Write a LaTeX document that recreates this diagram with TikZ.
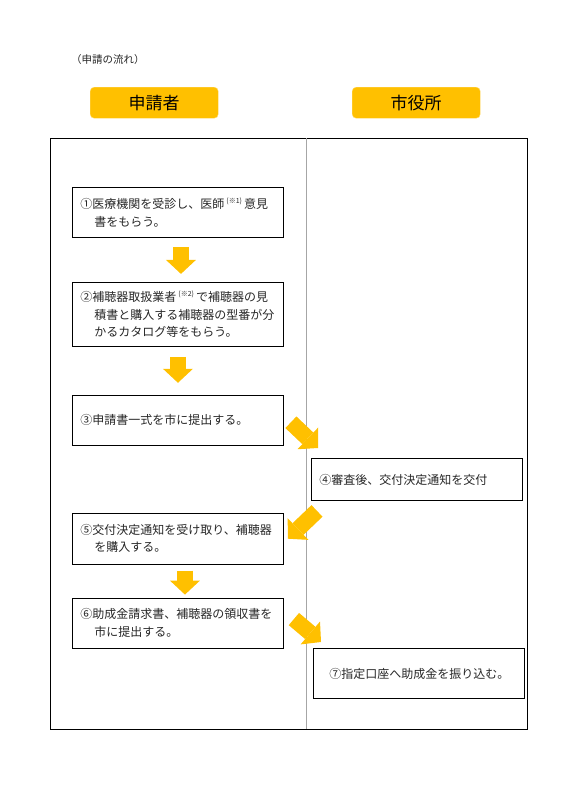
\documentclass[tikz,border=0pt]{standalone}
\usepackage{fontspec}
\setmainfont{Noto Sans CJK JP}
\usetikzlibrary{positioning,arrows.meta}
\begin{document}
\begin{tikzpicture}[x=1pt,y=-1pt]
  \definecolor{gold}{HTML}{FFC000}
  \definecolor{lightgold}{HTML}{FFD966}
  \definecolor{ink}{HTML}{262626}
  \definecolor{divider}{HTML}{A6A6A6}
  \newcommand{\hang}[0]{\hspace*{14pt}}
  \newcommand{\note}[1]{\,\raisebox{0.45em}{\fontsize{7}{7}\selectfont #1}\,}
  \tikzstyle{stepbox} = [rectangle, draw=black, line width=0.9pt, text=ink, font=\fontsize{12}{17.5}\selectfont, align=left, text width=195pt, inner xsep=8pt, anchor=north west]
  \tikzstyle{header}  = [rectangle, rounded corners=4pt, draw=lightgold, fill=gold, minimum width=128pt, minimum height=31pt, font=\fontsize{17}{17}\selectfont, anchor=north west]
  \tikzstyle{flow}    = [draw=gold, line width=16pt, -{Triangle[width=30pt, length=14pt, line width=0pt]}]
  \useasboundingbox (0,0) rectangle (579,808);
  \node [anchor=north west, inner sep=0pt, text=ink, font=\fontsize{10.5}{10.5}\selectfont] (title) at (71,54) {（申請の流れ）};
  \node [header] (applicant) at (90,87)  {申請者};
  \node [header] (cityhall)  at (352,87) {市役所};
  \draw [line width=0.9pt] (50,138) rectangle (527,729);
  \draw [divider, line width=0.9pt] (306,138) -- (306,729);
  \node [stepbox, minimum height=50pt]                   (step1) at (72,187) {①医療機関を受診し、医師\note{(※1)}意見\\\hang 書をもらう。};
  \node [stepbox, minimum height=64pt, below=44pt of step1] (step2)         {②補聴器取扱業者\note{(※2)}で補聴器の見\\\hang 積書と購入する補聴器の型番が分\\\hang かるカタログ等をもらう。};
  \node [stepbox, minimum height=50pt, below=48pt of step2] (step3)         {③申請書一式を市に提出する。};
  \node [stepbox, minimum height=42pt]                   (step4) at (311,458) {④審査後、交付決定通知を交付};
  \node [stepbox, minimum height=51pt, below=67pt of step3] (step5)         {⑤交付決定通知を受け取り、補聴器\\\hang を購入する。};
  \node [stepbox, minimum height=50pt, below=33pt of step5] (step6)         {⑥助成金請求書、補聴器の領収書を\\\hang 市に提出する。};
  \node [stepbox, minimum height=50pt, inner xsep=16pt, text width=179pt] (step7) at (313,648) {⑦指定口座へ助成金を振り込む。};
  \draw [flow, shorten <=9pt, shorten >=8pt]  ([xshift=3pt]step1.south) -- ([xshift=3pt]step2.north);
  \draw [flow, shorten <=10pt, shorten >=12pt] (step2.south) -- (step3.north);
  \draw [flow] ([shift={(7,2)}]step3.east) -- ([shift={(7,-10)}]step4.north west);
  \draw [flow] ([shift={(6,10)}]step4.south west) -- ([shift={(4,26)}]step5.north east);
  \draw [flow, shorten <=6pt, shorten >=3pt]  ([xshift=7pt]step5.south) -- ([xshift=7pt]step6.north);
  \draw [flow] ([shift={(10,-4)}]step6.east) -- ([shift={(8,-6)}]step7.north west);
\end{tikzpicture}
\end{document}
